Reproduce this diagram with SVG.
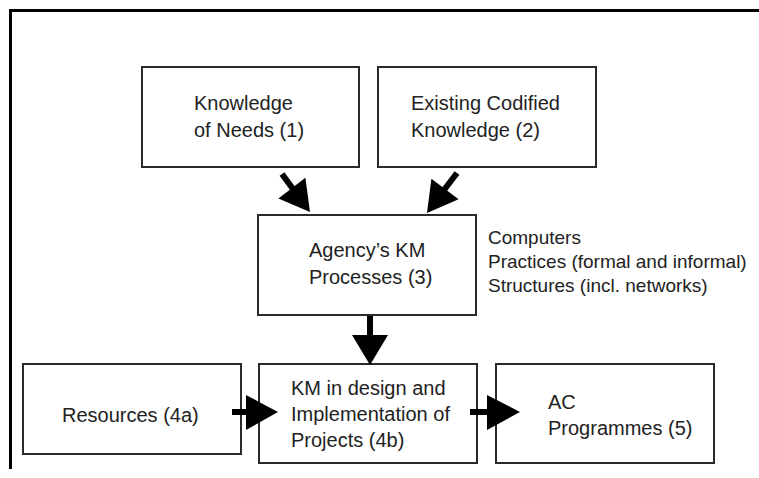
<svg xmlns="http://www.w3.org/2000/svg" width="759" height="478" viewBox="0 0 759 478">
<style>
.box{fill:#fff;stroke:#2a2a2a;stroke-width:2}
.t{font-family:"Liberation Sans",Arial,sans-serif;font-size:20px;fill:#222}
.s{font-family:"Liberation Sans",Arial,sans-serif;font-size:19px;fill:#222}
.shaft{stroke:#000;stroke-width:6;fill:none}
.head{fill:#000}
</style>
<rect x="0" y="0" width="759" height="478" fill="#fff"/>
<path d="M10.5,469 V10.5 H759" fill="none" stroke="#000" stroke-width="3"/>
<g id="n1">
<rect class="box" x="142" y="67" width="217" height="100"/>
<text class="t" x="194" y="110">Knowledge</text>
<text class="t" x="194" y="137">of Needs (1)</text>
</g>
<g id="n2">
<rect class="box" x="378" y="67" width="218" height="100"/>
<text class="t" x="411" y="110">Existing Codified</text>
<text class="t" x="411" y="137">Knowledge (2)</text>
</g>
<g id="n3">
<rect class="box" x="258" y="215" width="218" height="100"/>
<text class="t" x="309" y="257">Agency’s KM</text>
<text class="t" x="309" y="284">Processes (3)</text>
</g>
<g id="n3note">
<text class="s" x="488" y="244">Computers</text>
<text class="s" x="488" y="268">Practices (formal and informal)</text>
<text class="s" x="488" y="292">Structures (incl. networks)</text>
</g>
<g id="n4a">
<rect class="box" x="23" y="364" width="218" height="90"/>
<text class="t" x="62" y="422">Resources (4a)</text>
</g>
<g id="n4b">
<rect class="box" x="259" y="364" width="218" height="99"/>
<text class="t" x="291" y="395">KM in design and</text>
<text class="t" x="291" y="421">Implementation of</text>
<text class="t" x="291" y="447">Projects (4b)</text>
</g>
<g id="n5">
<rect class="box" x="496" y="364" width="218" height="99"/>
<text class="t" x="548" y="409">AC</text>
<text class="t" x="548" y="435">Programmes (5)</text>
</g>
<g id="connectors">
<line class="shaft" x1="282" y1="174" x2="293" y2="189"/>
<polygon class="head" points="310,212 305.4,177.8 278.4,198.4"/>
<line class="shaft" x1="457" y1="173" x2="444" y2="190"/>
<polygon class="head" points="427,213 458.6,199.2 431.4,178.8"/>
<line class="shaft" x1="370" y1="316" x2="370" y2="336"/>
<polygon class="head" points="352,335 388,335 370,365"/>
<line class="shaft" x1="232" y1="412" x2="247" y2="412"/>
<polygon class="head" points="246,395 246,430 278,412"/>
<line class="shaft" x1="470" y1="412" x2="488" y2="412"/>
<polygon class="head" points="487,395 487,430 520,412"/>
</g>
</svg>
